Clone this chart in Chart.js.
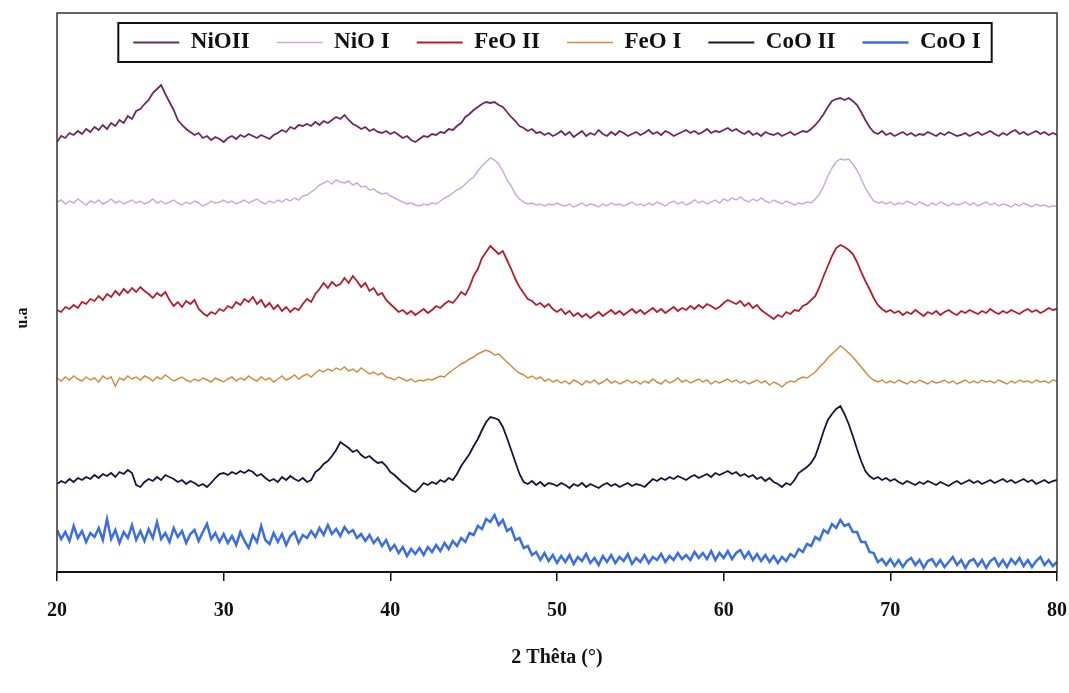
<!DOCTYPE html>
<html lang="fr">
<head>
    <meta charset="UTF-8">
    <title>DRX - NiO, FeO, CoO</title>
    <script src="https://cdn.jsdelivr.net/npm/chart.js@4.4.0/dist/chart.umd.min.js"></script>
    <style>
        body { margin: 0; background: #fff; }
        .chart-box { width: 1069px; height: 693px; }
    </style>
</head>
<body>
    <div class="chart-box">
        <canvas id="xrdChart" width="1069" height="693"></canvas>
    </div>

    <script>
        // scan grid (2 theta, degrees)
        const thetaStart = 20;
        const thetaStep = 0.25;
        const xTicks = [20, 30, 40, 50, 60, 70, 80];

        // intensities (u.a, stacked), one value per 0.25 deg from 20 to 80
        const nioII = [
            430, 436, 434, 439, 437, 441, 438, 443, 440, 445, 442, 447, 443, 449, 446, 452, 449, 456, 453, 461,
            463, 468, 472, 479, 483, 487, 478, 470, 462, 452, 447, 443, 440, 437, 439, 434, 436, 432, 435, 433,
            430, 434, 436, 433, 437, 435, 438, 436, 434, 437, 435, 433, 437, 439, 442, 440, 445, 443, 447, 446,
            448, 446, 450, 447, 451, 449, 452, 455, 453, 457, 452, 448, 446, 443, 445, 441, 443, 440, 439, 441,
            438, 440, 437, 434, 436, 432, 430, 433, 436, 435, 438, 437, 440, 439, 443, 442, 446, 449, 455, 458,
            462, 465, 468, 470, 469, 470, 467, 465, 460, 455, 451, 446, 444, 441, 443, 439, 440, 437, 439, 436,
            438, 441, 437, 440, 435, 438, 441, 436, 439, 437, 442, 438, 436, 440, 437, 441, 439, 436, 438, 440,
            437, 439, 442, 438, 440, 437, 441, 439, 436, 438, 440, 442, 439, 441, 438, 440, 443, 439, 441, 440,
            442, 444, 441, 443, 440, 438, 441, 437, 439, 436, 440, 438, 437, 439, 436, 438, 440, 437, 439, 441,
            440, 443, 447, 452, 458, 465, 471, 473, 474, 472, 474, 471, 467, 460, 452, 445, 440, 438, 441, 437,
            439, 436, 438, 440, 437, 439, 436, 438, 437, 440, 438, 436, 439, 437, 440, 438, 436, 437, 439, 436,
            438, 440, 437, 439, 441, 438, 436, 439, 437, 440, 442, 438, 440, 437, 439, 441, 438, 440, 437, 439,
            437
        ];
        const nioI = [
            370, 372, 368, 371, 369, 373, 370, 367, 371, 369, 372, 368, 370, 373, 369, 371, 368, 370, 372, 369,
            371, 368, 370, 373, 369, 371, 368, 370, 372, 369, 367, 370, 368, 371, 369, 366, 368, 371, 369, 370,
            372, 369, 371, 368, 370, 372, 369, 371, 373, 370, 368, 371, 369, 372, 370, 373, 371, 374, 372, 376,
            377, 380, 383, 387, 389, 391, 388, 392, 390, 389, 391, 387, 389, 385, 386, 382, 383, 380, 378, 379,
            376, 374, 372, 370, 368, 369, 367, 366, 368, 367, 369, 368, 371, 374, 376, 379, 382, 384, 388, 392,
            395, 401, 406, 410, 414, 412, 408, 401, 392, 386, 378, 373, 370, 368, 369, 367, 368, 366, 368, 367,
            369, 367, 366, 368, 365, 367, 369, 366, 368, 367, 365, 368, 366, 369, 367, 368, 366, 368, 370, 367,
            368, 366, 369, 367, 370, 368, 366, 369, 371, 368, 370, 367, 369, 372, 369, 371, 368, 370, 372, 369,
            373, 371, 374, 372, 375, 372, 370, 373, 371, 374, 371, 369, 372, 370, 368, 371, 369, 367, 369, 368,
            370, 369, 373, 378, 386, 396, 404, 410, 413, 412, 413, 408, 402, 393, 384, 377, 371, 369, 370, 368,
            370, 367, 369, 368, 371, 369, 367, 370, 368, 366, 369, 367, 370, 368, 366, 369, 367, 368, 370, 367,
            369, 366, 368, 370, 367, 369, 366, 368, 367, 365, 368, 366, 369, 367, 365, 368, 366, 367, 365, 366,
            366
        ];
        const feoII = [
            262, 260, 265, 263, 267, 264, 270, 268, 273, 271, 276, 272, 278, 275, 281, 277, 283, 279, 284, 280,
            285, 281, 278, 274, 279, 276, 280, 272, 266, 270, 265, 271, 268, 272, 263, 259, 256, 260, 258, 263,
            261, 266, 264, 270, 267, 273, 270, 275, 268, 272, 265, 269, 263, 267, 261, 265, 260, 264, 262, 268,
            273, 270, 278, 283, 289, 284, 290, 286, 288, 294, 289, 296, 291, 285, 289, 281, 284, 277, 279, 272,
            268, 264, 260, 262, 258, 261, 257, 260, 263, 259, 262, 266, 264, 268, 271, 269, 274, 280, 277, 285,
            296, 303, 314, 320, 326, 322, 318, 321, 312, 303, 293, 285, 279, 273, 271, 267, 269, 265, 268, 263,
            260, 263, 258, 261, 256, 259, 255, 258, 254, 257, 260, 256, 259, 262, 258, 261, 257, 260, 263, 259,
            262, 258, 261, 264, 260, 263, 259, 262, 265, 261, 264, 262, 266, 263, 267, 264, 268, 266, 263, 265,
            269, 272, 270, 268, 271, 266, 269, 264, 267, 262, 259, 256, 253, 257, 255, 260, 258, 262, 261, 266,
            268, 272, 276, 285, 296, 306, 316, 324, 327, 325, 322, 318, 310, 300, 291, 283, 274, 267, 263, 260,
            262, 259, 261, 257, 260, 258, 262, 259, 256, 260, 258, 261, 257, 260, 262, 259, 257, 261, 259, 262,
            260, 258, 261, 259, 263, 260, 258, 261, 259, 262, 260, 258, 261, 263, 260, 262, 259, 261, 264, 262,
            263
        ];
        const feoI = [
            194, 191, 195, 192, 196, 193, 191, 195, 192, 194, 190, 196, 193, 195, 186, 194, 192, 196, 193, 195,
            192, 196, 194, 191, 195, 193, 197, 194, 191, 193, 195, 192, 190, 193, 191, 194, 192, 190, 194, 192,
            190, 193, 195, 191, 194, 192, 196, 193, 191, 195, 192, 194, 190, 193, 196, 192, 194, 197, 193, 196,
            198, 195, 199, 202, 200, 203, 201, 204, 202, 205, 201, 203, 200, 204, 201, 198, 200, 197, 199, 195,
            194, 192, 195, 193, 191, 193, 190, 192, 191, 193, 192, 194, 196, 195, 199, 202, 205, 208, 210, 213,
            215, 218, 220, 222, 220, 217, 218, 214, 210, 206, 202, 199, 197, 194, 196, 193, 195, 191, 193, 190,
            192, 189, 191, 188, 192, 190, 187, 191, 189, 192, 188, 190, 193, 189, 191, 188, 190, 192, 189, 191,
            188, 191, 189, 193, 190, 188, 192, 189, 191, 194, 190, 192, 189, 191, 193, 190, 192, 188, 191, 189,
            191, 193, 190, 192, 189, 191, 188, 190, 192, 189, 191, 187, 190, 188, 185, 189, 191, 190, 193, 195,
            194, 197, 200, 205, 209, 214, 218, 222, 226, 223, 219, 215, 210, 205, 200, 195, 192, 190, 192, 189,
            191, 189, 192, 190, 188, 191, 189, 192, 190, 188, 191, 189, 190, 192, 189, 191, 188, 190, 192, 189,
            191, 189, 192, 190, 191, 189, 192, 190, 188, 191, 189, 192, 190, 191, 189, 192, 190, 191, 189, 192,
            191
        ];
        const cooII = [
            88, 91, 89, 93, 90, 94, 92, 95, 93, 97, 94, 98, 96, 99, 95, 100, 98, 102, 99, 87,
            85, 90, 93, 91, 95, 92, 97, 95, 93, 90, 92, 88, 91, 89, 86, 88, 85, 89, 94, 98,
            99, 97, 100, 98, 101, 99, 102, 100, 96, 98, 94, 91, 93, 90, 95, 92, 96, 93, 91, 94,
            90, 92, 100, 103, 108, 111, 116, 122, 130, 127, 124, 120, 122, 117, 114, 116, 112, 109, 110, 106,
            100, 97, 93, 89, 86, 82, 80, 84, 89, 87, 90, 88, 92, 90, 94, 92, 98, 106, 112, 118,
            126, 133, 142, 150, 155, 154, 152, 145, 134, 122, 110, 98, 90, 88, 91, 87, 90, 86, 89, 88,
            86, 89, 87, 84, 88, 86, 89, 85, 88, 86, 84, 87, 89, 86, 88, 85, 87, 89, 86, 88,
            87, 85, 89, 93, 91, 94, 92, 95, 93, 96, 94, 92, 95, 97, 94, 96, 98, 95, 99, 97,
            99, 101, 98, 100, 96, 98, 95, 97, 93, 95, 91, 94, 90, 88, 85, 89, 87, 92, 99, 102,
            105, 109, 116, 128, 141, 152, 158, 163, 166, 158, 148, 136, 123, 111, 101, 96, 93, 95, 92, 94,
            91, 93, 90, 88, 91, 89, 87, 90, 88, 91, 89, 87, 90, 88, 86, 89, 91, 88, 90, 92,
            89, 91, 88, 90, 92, 89, 91, 93, 90, 92, 89, 91, 93, 90, 92, 88, 90, 92, 89, 91,
            92
        ];
        const cooI = [
            42, 33, 40, 31, 46, 34, 41, 30, 39, 35, 44, 32, 53, 33, 42, 29, 40, 34, 47, 32,
            41, 31, 43, 34, 50, 33, 39, 30, 44, 35, 41, 29, 38, 42, 31, 40, 48, 33, 39, 30,
            38, 29, 36, 27, 40, 31, 24, 37, 30, 46, 32, 28, 39, 30, 38, 27, 36, 40, 29, 37,
            34, 41, 35, 44, 37, 47, 38, 43, 36, 45, 39, 42, 34, 38, 31, 37, 29, 34, 26, 32,
            22, 27, 19, 25, 16, 23, 18, 24, 17, 25, 20, 27, 21, 29, 23, 31, 26, 34, 30, 39,
            37, 46, 43, 53, 50, 57, 47, 52, 41, 44, 32, 34, 24, 26, 17, 20, 12, 19, 11, 17,
            9, 16, 10, 17, 8, 15, 11, 18, 9, 14, 7, 16, 10, 17, 9, 15, 11, 18, 8, 14,
            10, 17, 9, 15, 12, 18, 10, 16, 12, 19, 13, 17, 12, 20, 14, 19, 13, 21, 12, 19,
            14, 21, 13, 19, 22, 14, 20, 12, 18, 11, 17, 10, 16, 9, 15, 11, 18, 15, 23, 20,
            28, 26, 35, 32, 42, 39, 48, 44, 52, 46, 48, 40, 40, 30, 30, 20, 19, 10, 13, 7,
            13, 6, 12, 5, 11, 14, 7, 12, 4, 11, 13, 6, 12, 5, 10, 15, 7, 12, 4, 11,
            13, 6, 12, 4, 11, 14, 6, 12, 5, 13, 8, 14, 6, 12, 5, 11, 15, 7, 12, 6,
            10
        ];

        const seriesNames = ['NiOII', 'NiO I', 'FeO II', 'FeO I', 'CoO II', 'CoO I'];
        const seriesValues = [nioII, nioI, feoII, feoI, cooII, cooI];
        const seriesColors = ['#6b2a62', '#c9aad8', '#b21f2e', '#cf8c42', '#15153f', '#3b6fe0'];
        const seriesWidths = [1.8, 1.5, 1.8, 1.5, 1.8, 2.5];

        const twoTheta = nioII.map((_, i) => thetaStart + i * thetaStep);

        const serif = "'Liberation Serif', 'Times New Roman', serif";

        // plot frame (reaching up round the legend) + box round the legend
        const framePlugin = {
            id: 'frame',
            afterDraw(chart) {
                const { ctx, chartArea: a, legend } = chart;
                const boxes = legend.legendHitBoxes || [];
                const top = boxes.length ? boxes[0].top - 18 : a.top;
                ctx.save();
                ctx.strokeStyle = '#333';
                ctx.lineWidth = 1.5;
                ctx.beginPath();
                ctx.moveTo(a.left, a.bottom);
                ctx.lineTo(a.left, top);
                ctx.lineTo(a.right, top);
                ctx.lineTo(a.right, a.bottom);
                ctx.stroke();

                if (boxes.length) {
                    const first = boxes[0];
                    const last = boxes[boxes.length - 1];
                    ctx.strokeStyle = '#111';
                    ctx.lineWidth = 2;
                    ctx.strokeRect(first.left - 15, first.top - 8,
                        last.left + last.width - first.left + 26, first.height + 16);
                }
                ctx.restore();
            }
        };

        const ctx = document.getElementById('xrdChart').getContext('2d');
        new Chart(ctx, {
            type: 'line',
            data: {
                datasets: seriesNames.map((name, k) => ({
                    label: name,
                    data: seriesValues[k].map((v, i) => ({ x: twoTheta[i], y: v })),
                    borderColor: seriesColors[k],
                    backgroundColor: seriesColors[k],
                    borderWidth: seriesWidths[k],
                    pointRadius: 0,
                    tension: 0,
                    fill: false
                }))
            },
            options: {
                responsive: false,
                animation: false,
                layout: { padding: { left: 0, right: 12, top: 4, bottom: 23 } },
                plugins: {
                    tooltip: { enabled: false },
                    legend: {
                        position: 'top',
                        fullSize: false,
                        align: 'center',
                        labels: {
                            usePointStyle: true,
                            pointStyle: 'line',
                            pointStyleWidth: 46,
                            padding: 27,
                            color: '#111',
                            font: { family: serif, size: 23, weight: 'bold' }
                        }
                    }
                },
                scales: {
                    x: {
                        type: 'linear',
                        min: 20,
                        max: 80,
                        afterBuildTicks: (scale) => { scale.ticks = xTicks.map(v => ({ value: v })); },
                        afterFit: (scale) => { scale.paddingLeft = 0; scale.paddingRight = 0; },
                        ticks: {
                            color: '#111',
                            padding: 18,
                            maxRotation: 0,
                            font: { family: serif, size: 20, weight: 'bold' }
                        },
                        grid: {
                            drawOnChartArea: false,
                            drawTicks: true,
                            tickLength: 9,
                            color: '#111',
                            lineWidth: 1.5
                        },
                        border: { display: true, color: '#111', width: 2 },
                        title: {
                            display: true,
                            text: '2 Thêta (°)',
                            color: '#111',
                            padding: { top: 5, bottom: 0 },
                            font: { family: serif, size: 20, weight: 'bold' }
                        }
                    },
                    y: {
                        min: 0,
                        max: 508,
                        ticks: { display: false },
                        grid: { display: false, drawTicks: false },
                        border: { display: false },
                        title: {
                            display: true,
                            text: 'u.a',
                            color: '#111',
                            padding: { top: 13, bottom: 24.8 },
                            font: { family: serif, size: 16, weight: 'bold' }
                        }
                    }
                }
            },
            plugins: [framePlugin]
        });
    </script>
</body>
</html>
